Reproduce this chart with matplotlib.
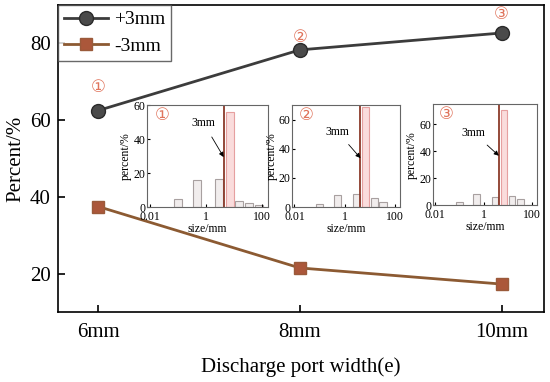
import numpy as np
import matplotlib
matplotlib.use('Agg')
import matplotlib.pyplot as plt

plt.rcParams['font.family'] = ['Liberation Serif', 'DejaVu Sans']

# main chart data
widths = [6, 8, 10]
width_labels = ['6mm', '8mm', '10mm']
plus3 = [62.5, 78.3, 82.7]
minus3 = [37.5, 21.5, 17.3]
circ_labels = ['\u2460', '\u2461', '\u2462']
circ_y = [68.6, 81.7, 87.6]

# inset size distributions (size/mm bins, percent)
bin_centers = [0.1, 0.5, 3.0, 7.0, 15.0, 34.0, 80.0]
hist1 = [5, 16, 16.5, 56, 3.5, 2.5, 1]
hist2 = [2, 8, 9, 69, 6, 3.5, 0]
hist3 = [2, 8, 6, 71, 7, 4.5, 0]
hists = [hist1, hist2, hist3]
inset_ylim = [60, 70, 75]
inset_yticks = [0, 20, 40, 60]
cut_size = 4.3

fig = plt.figure(figsize=(5.5, 3.82), dpi=100)
ax = fig.add_axes([0.105, 0.183, 0.884, 0.804])

ax.plot(widths, plus3, color='#3c3c3c', lw=2, marker='o', ms=10,
        mfc='#4a4a4a', mec='#2a2a2a', label='+3mm', zorder=3)
ax.plot(widths, minus3, color='#8c5a32', lw=2, marker='s', ms=9,
        mfc='#ab573a', mec='#9a5a3a', label='-3mm', zorder=3)
for x, y, t in zip(widths, circ_y, circ_labels):
    ax.text(x, y, t, color='#e0745c', fontsize=12, ha='center', va='center',
            family=['DejaVu Sans'])

ax.set_xlim(5.6, 10.42)
ax.set_ylim(10, 90)
ax.set_xticks(widths)
ax.set_xticklabels(width_labels)
ax.set_yticks([20, 40, 60, 80])
ax.tick_params(direction='in', labelsize=15, length=5, width=1.2)
ax.tick_params(axis='x', pad=8)
ax.tick_params(axis='y', pad=5)
for s in ax.spines.values():
    s.set_linewidth(1.2)
ax.set_xlabel('Discharge port width(e)', fontsize=15, labelpad=11)
ax.set_ylabel('Percent/%', fontsize=15, labelpad=3)
leg = ax.legend(loc='upper left', fontsize=14, borderaxespad=0, fancybox=False,
                edgecolor='#444444', handlelength=2.3, borderpad=0.3,
                labelspacing=0.45, handletextpad=0.3)
leg.get_frame().set_linewidth(1.0)

# insets
boxes = [[0.267, 0.458, 0.220, 0.267],
         [0.531, 0.458, 0.196, 0.267],
         [0.787, 0.463, 0.189, 0.264]]
text_pos = [(0.47, 0.82), (0.42, 0.74), (0.39, 0.72)]
tip_y = [0.49, 0.48, 0.49]
logw = 0.28
for i in range(3):
    ia = fig.add_axes(boxes[i])
    c = np.array(bin_centers)
    left = c * 10 ** (-logw / 2)
    right = c * 10 ** (logw / 2)
    fc = ['#f1eded'] * len(c)
    ec = ['#a8a0a0'] * len(c)
    fc[3] = '#fadcdc'
    ec[3] = '#e6a0a0'
    ia.bar(left, hists[i], width=right - left, align='edge', color=fc,
           edgecolor=ec, lw=0.8)
    ia.set_xscale('log')
    ia.set_xlim(0.008, 160)
    ia.set_ylim(0, inset_ylim[i])
    ia.set_xticks([0.01, 1, 100])
    ia.set_xticklabels(['0.01', '1', '100'])
    ia.minorticks_off()
    ia.set_yticks(inset_yticks)
    ia.tick_params(direction='in', labelsize=8.5, length=2, pad=1)
    ia.tick_params(axis='x', pad=2.5)
    for s in ia.spines.values():
        s.set_color('#666666')
        s.set_linewidth(0.8)
    ia.axvline(cut_size, color='#8b3a2a', lw=1.3)
    ia.set_xlabel('size/mm', fontsize=8.5, labelpad=0)
    ia.set_ylabel('percent/%', fontsize=8.5, labelpad=1)
    ia.annotate('3mm', xy=(cut_size, tip_y[i]),
                xycoords=('data', 'axes fraction'),
                xytext=text_pos[i], textcoords='axes fraction',
                fontsize=8.5, ha='center', va='center',
                arrowprops=dict(arrowstyle='-|>', color='black', lw=0.6,
                                mutation_scale=7, shrinkA=4, shrinkB=0))
    ia.text(0.13, 0.9, circ_labels[i], transform=ia.transAxes,
            color='#e0745c', fontsize=12, ha='center', va='center',
            family=['DejaVu Sans'])

fig.savefig('out.png', dpi=100)
